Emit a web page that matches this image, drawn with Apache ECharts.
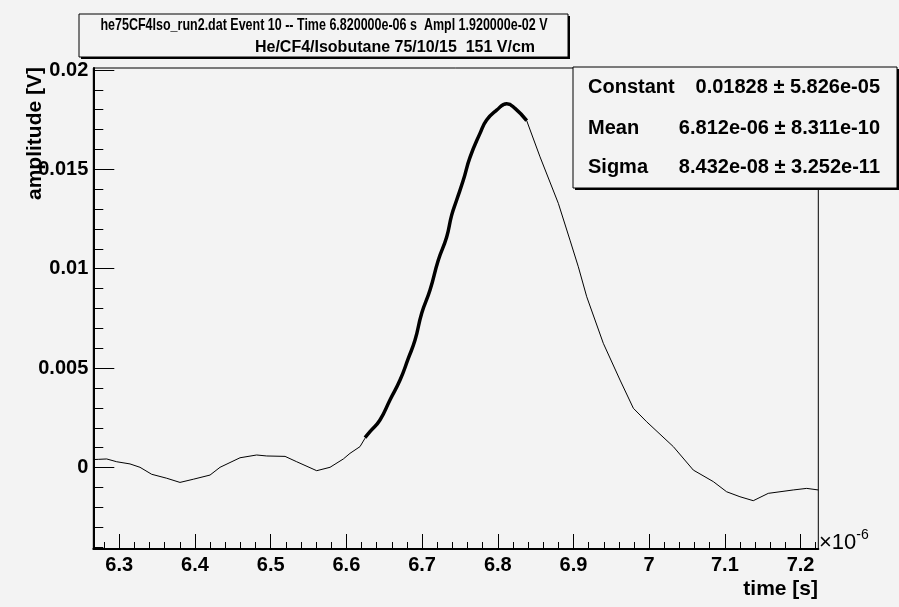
<!DOCTYPE html>
<html><head><meta charset="utf-8">
<script src="https://cdn.jsdelivr.net/npm/echarts@6/dist/echarts.min.js"></script>
<style>html,body{margin:0;padding:0;background:#f3f3f3}#c{width:899px;height:607px}</style>
</head><body><div id="c"></div>
<script>
// time in units of 1e-6 s, amplitude in V
const timeUs = [6.2657,6.2723,6.2834,6.2966,6.3142,6.3274,6.3428,6.3627,6.3802,6.3978,6.4199,6.4331,6.4595,6.4815,6.4948,6.5190,6.5344,6.5608,6.5784,6.5960,6.6047,6.6180,6.6246,6.6312,6.6444,6.6576,6.6709,6.6818,6.6907,6.6995,6.7105,6.7215,6.7325,6.7391,6.7457,6.7545,6.7633,6.7765,6.7853,6.7985,6.8118,6.8228,6.8382,6.8558,6.8800,6.8954,6.9064,6.9175,6.9394,6.9615,6.9791,6.9967,7.0319,7.0583,7.0847,7.1023,7.1199,7.1375,7.1573,7.1903,7.2081,7.2234];
const amplitudeV = [0.00040,0.00041,0.00043,0.00029,0.00018,0.00001,-0.00034,-0.00054,-0.00075,-0.00059,-0.00038,0.00001,0.00049,0.00063,0.00058,0.00056,0.00029,-0.00016,0.00001,0.00043,0.00071,0.00105,0.00147,0.00180,0.00239,0.00340,0.00440,0.00549,0.00641,0.00776,0.00893,0.01044,0.01160,0.01270,0.01346,0.01446,0.01560,0.01681,0.01748,0.01798,0.01830,0.01807,0.01745,0.01563,0.01329,0.01144,0.01010,0.00859,0.00625,0.00440,0.00298,0.00230,0.00105,-0.00013,-0.00071,-0.00122,-0.00147,-0.00167,-0.00130,-0.00113,-0.00105,-0.00113];
const fitTimeUs = [6.6246,6.6312,6.6444,6.6576,6.6709,6.6818,6.6907,6.6995,6.7105,6.7215,6.7325,6.7391,6.7457,6.7545,6.7633,6.7765,6.7853,6.7985,6.8118,6.8228,6.8382];
const fitAmplitudeV = [0.00150,0.00180,0.00239,0.00340,0.00440,0.00549,0.00641,0.00776,0.00893,0.01044,0.01160,0.01270,0.01346,0.01446,0.01560,0.01681,0.01748,0.01798,0.01830,0.01807,0.01745];

const xTickValues = [6.3,6.4,6.5,6.6,6.7,6.8,6.9,7.0,7.1,7.2];
const xTickLabels = ['6.3','6.4','6.5','6.6','6.7','6.8','6.9','7','7.1','7.2'];
const yTickValues = [0,0.005,0.01,0.015,0.02];
const yTickLabels = ['0','0.005','0.01','0.015','0.02'];
const xMinorTicks = [6.28,6.30,6.32,6.34,6.36,6.38,6.40,6.42,6.44,6.46,6.48,6.50,6.52,6.54,6.56,6.58,6.60,6.62,6.64,6.66,6.68,6.70,6.72,6.74,6.76,6.78,6.80,6.82,6.84,6.86,6.88,6.90,6.92,6.94,6.96,6.98,7.00,7.02,7.04,7.06,7.08,7.10,7.12,7.14,7.16,7.18,7.20,7.22];
const yMinorTicks = [-0.004,-0.003,-0.002,-0.001,0,0.001,0.002,0.003,0.004,0.005,0.006,0.007,0.008,0.009,0.010,0.011,0.012,0.013,0.014,0.015,0.016,0.017,0.018,0.019,0.020];

const X_MIN = 6.2657, X_MAX = 7.2234, Y_MIN = -0.0041, Y_MAX = 0.0201;
const FONT = 'Liberation Sans, Arial, Helvetica, sans-serif';
const BG = '#f3f3f3';

function labelFor(values, labels) {
  return function (v) {
    let best = 0, d = Infinity;
    values.forEach((t, i) => { const dd = Math.abs(t - v); if (dd < d) { d = dd; best = i; } });
    return d < 1e-6 ? labels[best] : '';
  };
}

const chart = echarts.init(document.getElementById('c'), null, {renderer: 'canvas'});
const dataPts = timeUs.map((t, i) => [t, amplitudeV[i]]);
const fitPts = fitTimeUs.map((t, i) => [t, fitAmplitudeV[i]]);

const labelStyle = {color: '#000', fontFamily: FONT, fontWeight: 'bold', fontSize: 20};

function box(x, y, w, h) {
  return [
    {type: 'rect', shape: {x: x + 2, y: y + 2, width: w, height: h}, style: {fill: '#000'}, z: 100},
    {type: 'rect', shape: {x: x, y: y, width: w, height: h}, style: {fill: BG, stroke: '#000', lineWidth: 1}, z: 101}
  ];
}
function txt(x, y, text, opts) {
  return Object.assign({type: 'text', x: x, y: y, z: 102,
    style: Object.assign({text: text, fill: '#000', fontFamily: FONT, fontWeight: 'bold', fontSize: 20,
      align: 'left', verticalAlign: 'middle'}, opts && opts.style || {})}, opts && opts.el || {});
}

const graphics = [].concat(
  box(79, 14, 489, 43),
  [
    txt(324, 25, 'he75CF4Iso_run2.dat Event 10 -- Time 6.820000e-06 s  Ampl 1.920000e-02 V',
      {style: {fontSize: 17, align: 'center'}, el: {scaleX: 0.735}}),
    txt(395, 48, 'He/CF4/Isobutane 75/10/15  151 V/cm', {style: {fontSize: 16, align: 'center'}})
  ],
  box(573, 67, 324, 121),
  [
    txt(588, 87, 'Constant'),
    txt(880, 87, '0.01828 \u00b1 5.826e-05', {style: {align: 'right'}}),
    txt(588, 128, 'Mean'),
    txt(880, 128, '6.812e-06 \u00b1 8.311e-10', {style: {align: 'right'}}),
    txt(588, 167, 'Sigma'),
    txt(880, 167, '8.432e-08 \u00b1 3.252e-11', {style: {align: 'right'}}),
    txt(818, 589, 'time [s]', {style: {align: 'right', fontSize: 21}}),
    txt(35, 67, 'amplitude [V]', {style: {align: 'right', fontSize: 21}, el: {rotation: Math.PI / 2}}),
    {type: 'text', x: 819, y: 543, z: 102, style: {
      text: '{a|\u00d710}{b|-6}', fill: '#000', verticalAlign: 'middle',
      rich: {a: {fontFamily: FONT, fontSize: 22, fill: '#000'}, b: {fontFamily: FONT, fontSize: 14, fill: '#000', verticalAlign: 'top', padding: [0,0,16,0]}}
    }}
  ]
);

chart.setOption({
  backgroundColor: BG,
  animation: false,
  grid: {left: 93.3, right: 80.7, top: 68, bottom: 58, show: true, borderColor: '#000', borderWidth: 1, backgroundColor: 'transparent', containLabel: false},
  xAxis: [
    {type: 'value', min: X_MIN, max: X_MAX, position: 'bottom',
      axisLine: {show: true, onZero: false, lineStyle: {color: '#000', width: 2}},
      axisTick: {show: true, inside: true, length: 15, customValues: xTickValues, lineStyle: {color: '#000', width: 1}},
      axisLabel: Object.assign({show: true, margin: 6, customValues: xTickValues, formatter: labelFor(xTickValues, xTickLabels)}, labelStyle),
      splitLine: {show: false}},
    {type: 'value', min: X_MIN, max: X_MAX, position: 'bottom',
      axisLine: {show: false, onZero: false},
      axisTick: {show: true, inside: true, length: 7, customValues: xMinorTicks, lineStyle: {color: '#000', width: 1}},
      axisLabel: {show: false}, splitLine: {show: false}}
  ],
  yAxis: [
    {type: 'value', min: Y_MIN, max: Y_MAX, position: 'left',
      axisLine: {show: true, onZero: false, lineStyle: {color: '#000', width: 2}},
      axisTick: {show: true, inside: true, length: 21, customValues: yTickValues, lineStyle: {color: '#000', width: 1}},
      axisLabel: Object.assign({show: true, margin: 5, customValues: yTickValues, formatter: labelFor(yTickValues, yTickLabels)}, labelStyle),
      splitLine: {show: false}},
    {type: 'value', min: Y_MIN, max: Y_MAX, position: 'left',
      axisLine: {show: false, onZero: false},
      axisTick: {show: true, inside: true, length: 10, customValues: yMinorTicks, lineStyle: {color: '#000', width: 1}},
      axisLabel: {show: false}, splitLine: {show: false}}
  ],
  series: [
    {type: 'line', data: dataPts, xAxisIndex: 0, yAxisIndex: 0, showSymbol: false, smooth: false,
      lineStyle: {color: '#000', width: 1}, z: 3},
    {type: 'line', data: fitPts, xAxisIndex: 0, yAxisIndex: 0, showSymbol: false, smooth: true,
      lineStyle: {color: '#000', width: 3.5}, z: 4}
  ],
  graphic: graphics
});
</script></body></html>
